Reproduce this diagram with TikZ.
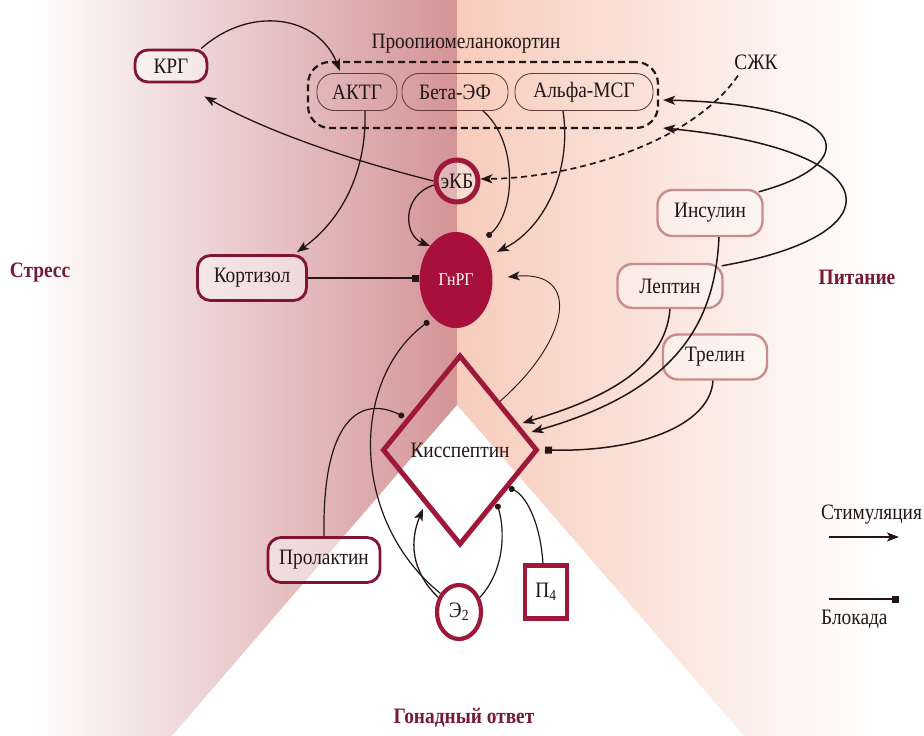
\documentclass[tikz,border=0pt]{standalone}
\usepackage{fontspec}
\setmainfont[FakeStretch=0.88]{Liberation Serif}
\usetikzlibrary{arrows.meta,shapes.geometric}
\definecolor{bgrose}{RGB}{212,148,150}
\definecolor{bgpeach}{RGB}{247,204,188}
\definecolor{kred}{RGB}{128,20,50}
\definecolor{kbold}{RGB}{158,24,58}
\definecolor{gfill}{RGB}{166,16,58}
\definecolor{paleb}{RGB}{200,140,140}
\definecolor{innerb}{RGB}{105,60,60}
\definecolor{labc}{RGB}{118,26,54}
\definecolor{ink}{RGB}{35,22,22}
\begin{document}
\begin{tikzpicture}[x=1pt,y=-1pt,
  every node/.style={font=\fontsize{22}{24}\selectfont, text=ink, inner sep=0pt},
  rbox/.style={draw=kred, line width=2.8pt, rounded corners=13pt, fill=white, fill opacity=0.45, text opacity=1},
  pbox/.style={draw=paleb, line width=2.4pt, rounded corners=15pt, fill=white, fill opacity=0.35, text opacity=1},
  ibox/.style={draw=innerb, line width=0.9pt, rounded corners=17pt},
  stim/.style={draw=ink, line width=1.3pt, -{Stealth[length=12pt,width=9pt,inset=3pt]}},
  blk/.style={draw=ink, line width=1.3pt, -{Square[length=7pt,width=7pt]}},
  bdot/.style={draw=ink, line width=1.2pt, -{Circle[length=6pt]}},
  lab/.style={text=labc, font=\fontsize{22}{24}\selectfont\bfseries}
]
\useasboundingbox (0,0) rectangle (924,736);
% background
\fill[white] (0,0) rectangle (924,736);
\shade[left color=white, right color=bgrose] (30,0) rectangle (457,736);
\shade[left color=bgpeach, right color=white] (457,0) rectangle (880,736);
\fill[white] (457,405) -- (172,736) -- (744,736) -- cycle;

% labels
\node[lab] (stress) at (40,273) {Стресс};
\node[lab] (food) at (857,277) {Питание};
\node[lab] (gonad) at (464,718) {Гонадный ответ};
\node (pomclab) at (466,44) {Проопиомеланокортин};
\node (szhk) at (756,62) {СЖК};

% nodes
\node[rbox, minimum width=72pt, minimum height=32pt] (krg) at (171,66) {КРГ};
\node[draw=ink, dashed, dash pattern=on 7pt off 4pt, line width=2.2pt, rounded corners=22pt,
      minimum width=350pt, minimum height=66pt] (pomc) at (483,95) {};
\node[ibox, minimum width=80pt, minimum height=37pt] (aktg) at (357,92) {АКТГ};
\node[ibox, minimum width=106pt, minimum height=37pt] (beta) at (455,92) {Бета-ЭФ};
\node[ibox, minimum width=138pt, minimum height=37pt] (alpha) at (584,92) {Альфа-МСГ};
\node[circle, draw=kbold, line width=5pt, minimum size=42pt, fill=white, fill opacity=0.3, text opacity=1] (ekb) at (457,181) {эКБ};
\node[ellipse, fill=gfill, minimum width=73pt, minimum height=96pt, text=white, font=\fontsize{18}{20}\selectfont] (gnrg) at (456,280) {ГнРГ};
\node[rbox, minimum width=109pt, minimum height=45pt] (cort) at (252,278) {Кортизол};
\node[diamond, draw=kbold, line width=5pt, minimum width=155pt, minimum height=190pt] (kiss) at (460,450) {};
\node (kisstxt) at (460,450) {Кисспептин};
\node[pbox, minimum width=105pt, minimum height=46pt] (ins) at (710,213) {Инсулин};
\node[pbox, minimum width=105pt, minimum height=44pt] (lep) at (670,286) {Лептин};
\node[pbox, minimum width=104pt, minimum height=45pt] (gre) at (715,357) {Трелин};
\node[rbox, minimum width=112pt, minimum height=45pt] (prl) at (324,560) {Пролактин};
\node[ellipse, draw=kbold, line width=4.2pt, fill=white, minimum width=44pt, minimum height=54pt] (e2) at (459,612) {Э\textsubscript{2}};
\node[draw=kbold, line width=4.2pt, fill=white, minimum width=42pt, minimum height=53pt] (p4) at (546,592) {П\textsubscript{4}};

% legend
\node[anchor=west] (lstim) at (821,515) {Стимуляция};
\coordinate (ls1) at (829,537);
\coordinate (ls2) at (899,537);
\draw[stim, line width=2pt] (ls1) -- (ls2);
\coordinate (lb1) at (829,599);
\coordinate (lb2) at (899,599);
\draw[blk, line width=2pt] (lb1) -- (lb2);
\node[anchor=west] (lblk) at (821,619) {Блокада};

% connectors
\draw[stim] (krg.30) .. controls (250,5) and (318,15) .. ([shift={(-17,-2)}]aktg.north);
\draw[stim] (ekb.west) .. controls (330,155) and (255,125) .. ([shift={(-4,13)}]krg.south east);
\draw[stim] ([xshift=8pt]aktg.south) .. controls (367,180) and (335,225) .. ([shift={(45,-2)}]cort.north);
\draw[stim] (ekb.190) .. controls (402,195) and (403,235) .. (gnrg.north west);
\draw[bdot] ([xshift=28pt]beta.south) .. controls (517,140) and (517,210) .. ([shift={(5,-9)}]gnrg.north east);
\draw[stim] ([xshift=-21pt]alpha.south) .. controls (572,170) and (545,228) .. ([shift={(15,6)}]gnrg.north east);
\draw[blk, line width=1.6pt] (cort.east) -- (gnrg.west |- cort.east);
\draw[stim, dashed, dash pattern=on 6pt off 4pt, line width=1.7pt] ([shift={(-18,6)}]szhk.south) .. controls (690,145) and (570,178) .. (ekb.5);
\draw[stim, line width=1.5pt] ([shift={(-5,3)}]ins.north east) .. controls (860,165) and (860,105) .. ([shift={(4,5)}]pomc.east);
\draw[stim, line width=1.5pt] ([shift={(-2,3)}]lep.north east) .. controls (900,235) and (890,150) .. ([shift={(4,33)}]pomc.east);
\draw[stim, line width=1.5pt] ([xshift=9pt]ins.south) .. controls (715,320) and (680,390) .. ([shift={(-8.5,-18)}]kiss.east);
\draw[stim, line width=1.5pt] (lep.south) .. controls (665,370) and (600,400) .. ([shift={(-17.5,-27)}]kiss.east);
\draw[blk, line width=1.5pt] ([xshift=-2pt]gre.south) .. controls (710,425) and (640,452) .. ([xshift=5pt]kiss.east);
\draw[stim, line width=0.9pt] (kiss.north east) .. controls (570,340) and (582,270) .. ([shift={(15,-3)}]gnrg.east);
\draw[bdot] (e2.135) .. controls (350,520) and (350,380) .. ([shift={(-1,7)}]gnrg.south west);
\draw[stim] (e2.145) .. controls (410,570) and (410,540) .. ([shift={(3,10)}]kiss.south west);
\draw[bdot] (e2.35) .. controls (505,570) and (505,530) .. ([shift={(-3,5)}]kiss.south east);
\draw[bdot] ([xshift=-3pt]p4.north) .. controls (540,520) and (525,495) .. ([shift={(9,-11)}]kiss.south east);
\draw[bdot] (prl.north) .. controls (322,420) and (360,395) .. ([shift={(-16,15.5)}]kiss.north west);
\end{tikzpicture}
\end{document}
